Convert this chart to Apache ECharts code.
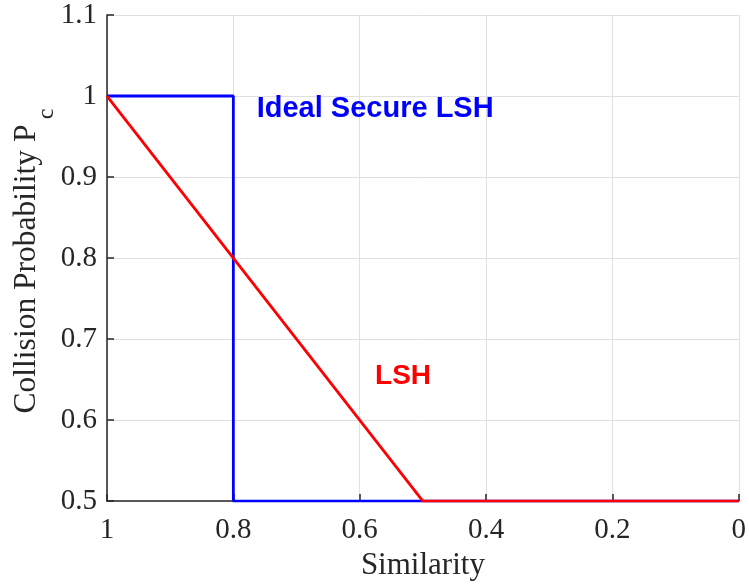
<!DOCTYPE html>
<html>
<head>
<meta charset="utf-8">
<script src="https://cdn.jsdelivr.net/npm/echarts@6/dist/echarts.min.js"></script>
<style>
  html, body { margin: 0; padding: 0; background: #fff; }
  #chart { width: 749px; height: 586px; }
</style>
</head>
<body>
<div id="chart"></div>
<script>
// Similarity values (x) and collision probabilities (y) for each scheme
const idealX = [1, 0.8, 0.8, 0];
const idealY = [1, 1, 0.5, 0.5];
const lshX = [1, 0.5, 0];
const lshY = [1, 0.5, 0.5];

// Axis settings
const xTicks = [1, 0.8, 0.6, 0.4, 0.2, 0];
const yTicks = [0.5, 0.6, 0.7, 0.8, 0.9, 1, 1.1];

// In-plot annotations: [text, similarity, probability]
const idealLabel = ['Ideal Secure LSH', 0.763, 0.984];
const lshLabel = ['LSH', 0.5757, 0.654];

const SERIF = '"Liberation Serif", "Times New Roman", serif';
const SANS = '"Liberation Sans", Arial, sans-serif';
const AXIS_COLOR = '#262626';
const GRID_COLOR = '#e0e0e0';

const chart = echarts.init(document.getElementById('chart'));

function zip(xs, ys) { return xs.map((x, i) => [x, ys[i]]); }

const option = {
  animation: false,
  backgroundColor: '#fff',
  grid: { left: 107, right: 8, top: 15, bottom: 80, containLabel: false },
  xAxis: {
    type: 'value',
    inverse: true,
    min: xTicks[xTicks.length - 1],
    max: xTicks[0],
    interval: 0.2,
    name: 'Similarity',
    nameLocation: 'middle',
    nameGap: 62,
    nameTextStyle: { fontFamily: SERIF, fontSize: 31, color: AXIS_COLOR, verticalAlign: 'middle' },
    axisLine: { show: true, onZero: false, lineStyle: { color: AXIS_COLOR, width: 1.5 } },
    axisTick: { show: true, inside: true, length: 7, lineStyle: { color: AXIS_COLOR, width: 1.5 } },
    axisLabel: {
      fontFamily: SERIF, fontSize: 29, color: AXIS_COLOR, margin: 15,
      formatter: v => String(+v.toFixed(1))
    },
    splitLine: { show: true, lineStyle: { color: GRID_COLOR, width: 1 } }
  },
  yAxis: {
    type: 'value',
    min: yTicks[0],
    max: yTicks[yTicks.length - 1],
    interval: 0.1,
    axisLine: { show: true, onZero: false, lineStyle: { color: AXIS_COLOR, width: 1.5 } },
    axisTick: { show: true, inside: true, length: 7, lineStyle: { color: AXIS_COLOR, width: 1.5 } },
    axisLabel: {
      fontFamily: SERIF, fontSize: 29, color: AXIS_COLOR, margin: 10,
      padding: [4, 0, 0, 0],
      formatter: v => String(+v.toFixed(1))
    },
    splitLine: { show: true, lineStyle: { color: GRID_COLOR, width: 1 } }
  },
  series: [
    {
      name: 'Ideal Secure LSH',
      type: 'line',
      data: zip(idealX, idealY),
      showSymbol: false,
      symbol: 'none',
      lineStyle: { color: '#0000ff', width: 2.8 },
      z: 3
    },
    {
      name: 'LSH',
      type: 'line',
      data: zip(lshX, lshY),
      showSymbol: false,
      symbol: 'none',
      lineStyle: { color: '#ff0000', width: 2.8 },
      z: 4
    }
  ]
};

chart.setOption(option);

// Place the annotations and the y-axis title (with subscript) using the axis scales
const pIdeal = chart.convertToPixel({ gridIndex: 0 }, [idealLabel[1], idealLabel[2]]);
const pLsh = chart.convertToPixel({ gridIndex: 0 }, [lshLabel[1], lshLabel[2]]);

chart.setOption({
  graphic: [
    {
      type: 'text', x: pIdeal[0], y: pIdeal[1], z: 10,
      style: { text: idealLabel[0], font: 'bold 29px ' + SANS, fill: '#0000ff', align: 'left', verticalAlign: 'middle' }
    },
    {
      type: 'text', x: pLsh[0], y: pLsh[1], z: 10,
      style: { text: lshLabel[0], font: 'bold 28px ' + SANS, fill: '#ff0000', align: 'left', verticalAlign: 'middle' }
    },
    {
      type: 'text', x: 27, y: 269, rotation: Math.PI / 2, z: 10,
      style: { text: 'Collision Probability P', font: '31.5px ' + SERIF, fill: AXIS_COLOR, align: 'center', verticalAlign: 'middle' }
    },
    {
      type: 'text', x: 47, y: 114, rotation: Math.PI / 2, z: 10,
      style: { text: 'c', font: '24px ' + SERIF, fill: AXIS_COLOR, align: 'center', verticalAlign: 'middle' }
    }
  ]
});
</script>
</body>
</html>
